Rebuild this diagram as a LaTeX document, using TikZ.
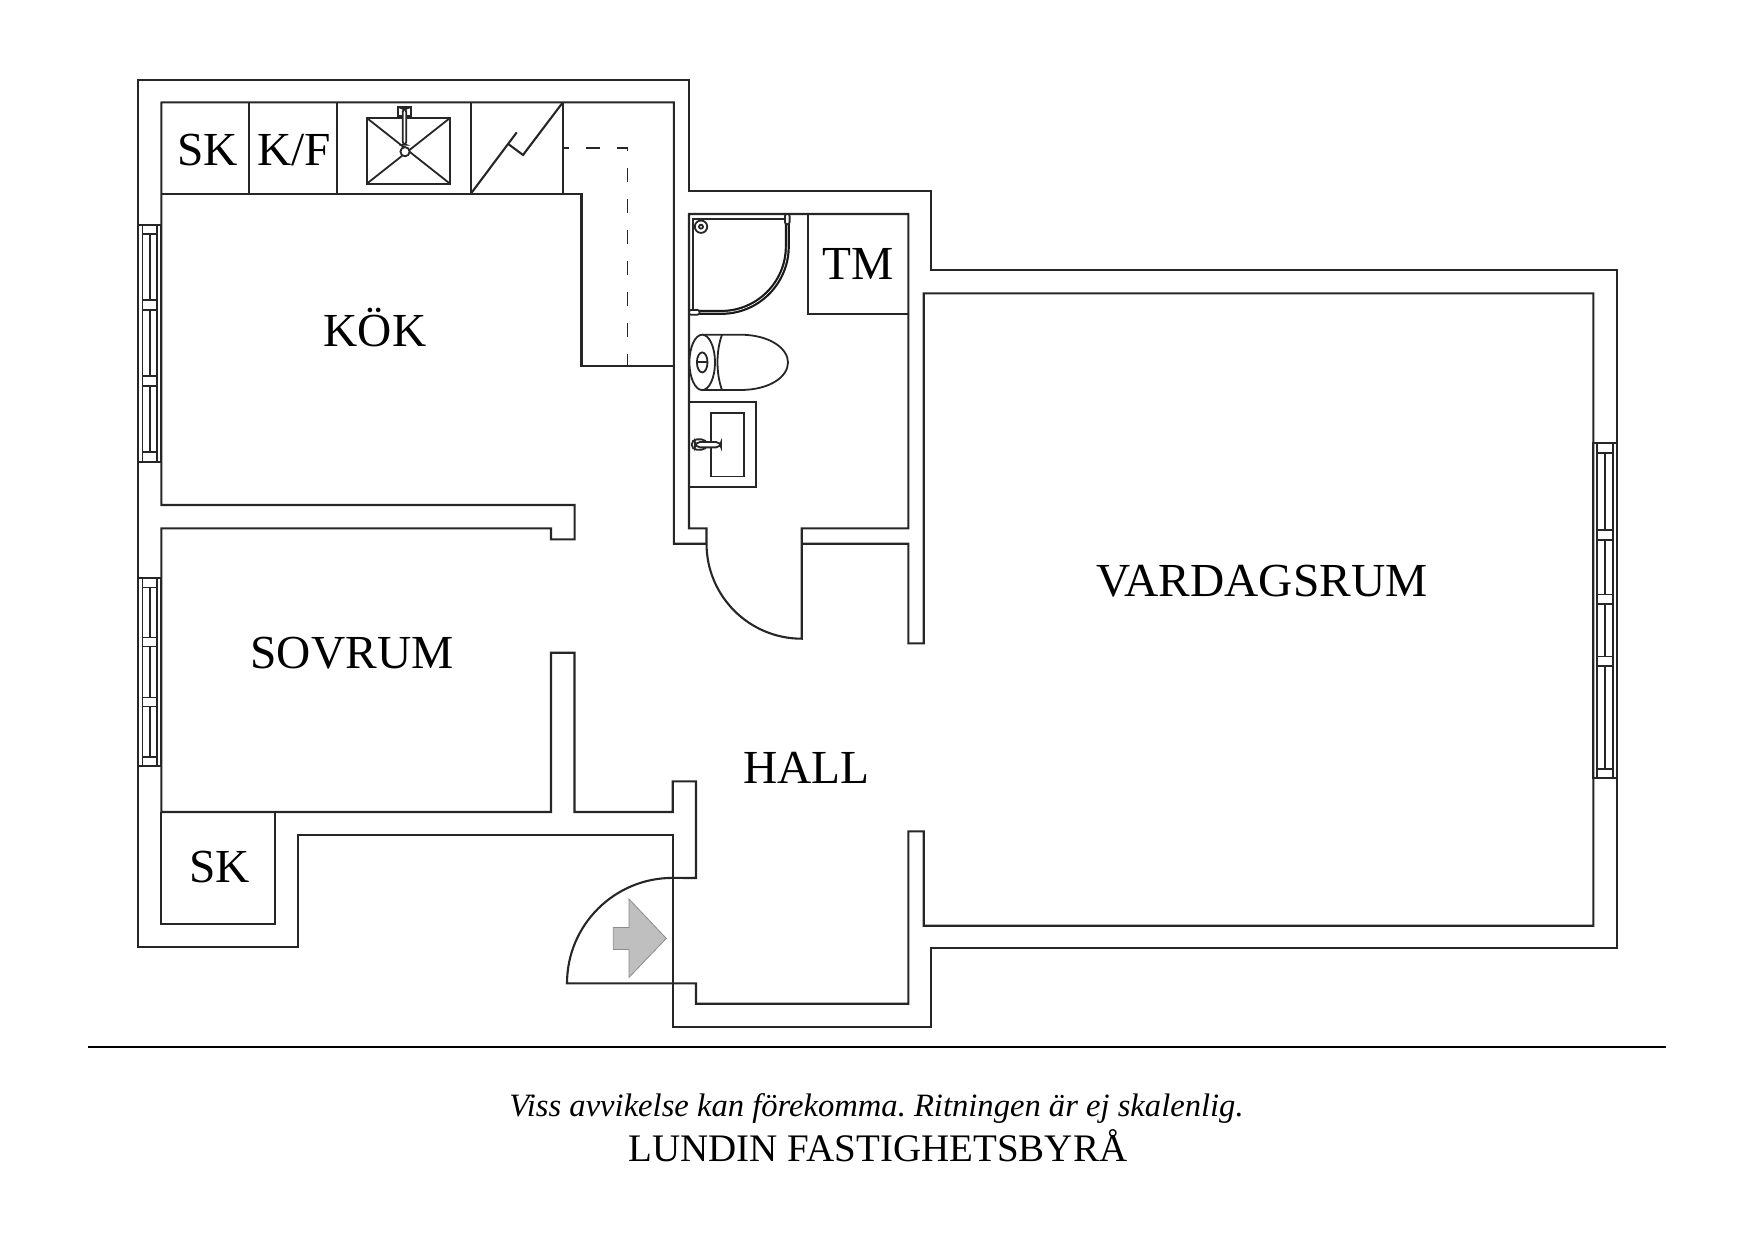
\documentclass[tikz,border=0pt]{standalone}
\usepackage{fontspec}
\setmainfont{Liberation Serif}
\usetikzlibrary{calc,positioning}
\newcommand*{\roomsize}{\fontsize{23.7}{28}\selectfont}
\newcommand*{\capsize}{\fontsize{19.5}{23}\selectfont}
\newcommand*{\notesize}{\fontsize{16.3}{20}\selectfont\itshape\frenchspacing}
\newcommand{\winframe}[5]{%
\draw[wall] (#1,#3) rectangle (#2,#4);
\draw[fitting] (#1+4,#3) -- (#1+4,#4);
\draw[fitting] (#2-4,#3) -- (#2-4,#4);
\foreach \ya/\yb in {#5} {
  \draw[fitting] (#1+4,\ya) rectangle (#2-4,\yb);
  \draw[fitting] ({(#1+#2)/2},\ya) -- ({(#1+#2)/2},\yb);
}}
\tikzset{
  wall/.style={line width=1.05pt,draw=black!85,line join=miter},
  fitting/.style={line width=.9pt,draw=black!85},
  room/.style={anchor=base,inner sep=0pt,font=\roomsize,text=black},
}
\begin{document}
\begin{tikzpicture}[x=.5pt,y=-.5pt]
\useasboundingbox (0,0) rectangle (1754,1240);
\begin{scope}[yshift=-.35pt]
% outer line of the flat
\draw[wall] (138.4,79) -- (689,79) -- (689,190.3) -- (930.7,190.3) -- (930.7,269.3) -- (1616.7,269.3)
  -- (1616.7,947.3) -- (931.3,947.3) -- (931.3,1026) -- (672.7,1026) -- (672.7,834.5) -- (298,834.5)
  -- (298,946.3) -- (138.4,946.3) -- cycle;
% inner line
\draw[wall] (161.3,101.7) -- (673.8,101.7) -- (673.8,543) -- (706.5,543) -- (706.5,527.7) -- (689,527.7)
  -- (689,213.3) -- (908.3,213.3) -- (908.3,527.7) -- (801.7,527.7) -- (801.7,638)
  arc[start angle=90,end angle=180,radius=95.2]
  (801.7,543) -- (908.3,543) -- (908.3,642.7) -- (923.7,642.7) -- (923.7,292.7) -- (1593.3,292.7)
  -- (1593.3,925) -- (923.7,925) -- (923.7,830.7) -- (908.3,830.7) -- (908.3,1003) -- (696,1003)
  -- (696,982.7) -- (567,982.7) arc[start angle=180,end angle=270,radius=105.5] -- (696,877.3)
  -- (696,780.7) -- (672.7,780.7) -- (672.7,811.3) -- (574.5,811.3) -- (574.5,652) -- (551,652)
  -- (551,811.3) -- (161.3,811.3) -- (161.3,527.7) -- (551,527.7) -- (551,538.7) -- (574.6,538.7)
  -- (574.6,504.3) -- (161.3,504.3) -- (161.3,100.9);
% kitchen
\draw[wall] (161.3,193.3) -- (581.5,193.3) -- (581.5,365.2) -- (673.8,365.2);
\foreach \xd in {249.4,337.4,470.6,562.8}
  \draw[wall] (\xd,101.7) -- (\xd,193.3);
\draw[fitting,dash pattern=on 7pt off 8.5pt,dash phase=4pt] (562.8,147.3) -- (627.5,147.3) -- (627.5,364.7);
\draw[fitting] (366.8,117.3) rectangle (450,183);
\draw[fitting] (366.8,117.3) -- (450,183) (450,117.3) -- (366.8,183);
\draw[fitting,fill=white] (405,151) circle[radius=4.6];
\draw[fitting,fill=white] (398.3,106) rectangle (411,115);
\draw[fitting,fill=white,rounded corners=1.5pt] (402.7,108.3) rectangle (406.3,144);
\draw[wall] (470.6,193.3) -- (516.7,131.7);
\draw[wall] (508.3,143.3) -- (523,154.3) -- (562.8,101.7);
% bath
\draw[wall] (808.3,213.3) -- (808.3,313) -- (908.3,313);
\draw[fitting] (693.3,313) -- (693.3,218) -- (787,218);
\draw[fitting] (701,226) circle[radius=6.2] (701,226) circle[radius=2];
\draw[black!90,line width=2.5pt] (787.3,223) -- (787.3,245.7) arc[start angle=0,end angle=90,radius=66] -- (699,311.7);
\draw[white,line width=.3pt] (787.3,223) -- (787.3,245.7) arc[start angle=0,end angle=90,radius=66] -- (699,311.7);
\draw[fitting,fill=white,rounded corners=1pt] (785,213.3) rectangle (789.6,223.5);
\draw[fitting,fill=white,rounded corners=1pt] (689,309.3) rectangle (699.5,314);
\draw[fitting] (702.2,334) -- (740,334) .. controls (770,334) and (788,348) .. (788,361.7)
  .. controls (788,376) and (770,389.3) .. (740,389.3) -- (702.2,389.3);
\draw[fitting] (722,334) .. controls (716,350) and (716,373) .. (722,389.3);
\draw[fitting,fill=white] (702.2,361.7) ellipse[x radius=12.8,y radius=27.7];
\draw[fitting] (702.2,361.7) ellipse[x radius=5.3,y radius=10];
\draw[fitting] (696.9,361.7) -- (707.5,361.7);
\draw[wall] (689,401.7) -- (755.7,401.7) -- (755.7,486) -- (689,486);
\draw[fitting] (710.7,412.3) rectangle (744.3,475.7);
\draw[fitting,fill=white,rounded corners=2.5pt] (691.7,438.7) rectangle (706.7,449);
\draw[fitting,fill=white,rounded corners=2.5pt] (695,441.3) rectangle (721,446.7);
% store room in the bedroom
\draw[wall] (275,811.3) -- (275,923.3) -- (161.3,923.3) -- (161.3,811.3);
% windows
\winframe{138.4}{161.3}{224}{461}{233.3/299.3,309.3/375.3,385/451.7}
\winframe{138.4}{161.3}{577.3}{765}{586.7/636.7,645.7/696.7,705.7/756}
\winframe{1593.3}{1616.7}{442.7}{777.3}{452/529,539/593.7,603.3/655.7,665/768.3}
% entrance arrow
\draw[draw=black!45,fill=black!25,line width=.4pt] (666.3,937.7) -- (629,898.3) -- (629,926.7) -- (613.3,926.7)
  -- (613.3,948.7) -- (629,948.7) -- (629,976.7) -- cycle;
\end{scope}
% texts
\node[room] (sktop) at (207.4,165.3) {SK};
\node[room] (kf) at (294,165.3) {K/F};
\node[room] (kok) at (375,346.7) {KÖK};
\node[room] (tm) at (858,280) {TM};
\node[room] (sovrum) at (352,668) {SOVRUM};
\node[room] (skbot) at (219.5,882.7) {SK};
\node[room] (hall) at (806.7,783.3) {HALL};
\node[room] (vardag) at (1262,596) {VARDAGSRUM};
\draw[line width=1.1pt] (88.4,1047) -- (1665.6,1047);
\node[room,font=\notesize] (note) at (876.5,1116) {Viss avvikelse kan förekomma. Ritningen är ej skalenlig.};
\node[room,font=\capsize] (firm) at (878,1161.3) {LUNDIN FASTIGHETSBYRÅ};
\end{tikzpicture}
\end{document}
